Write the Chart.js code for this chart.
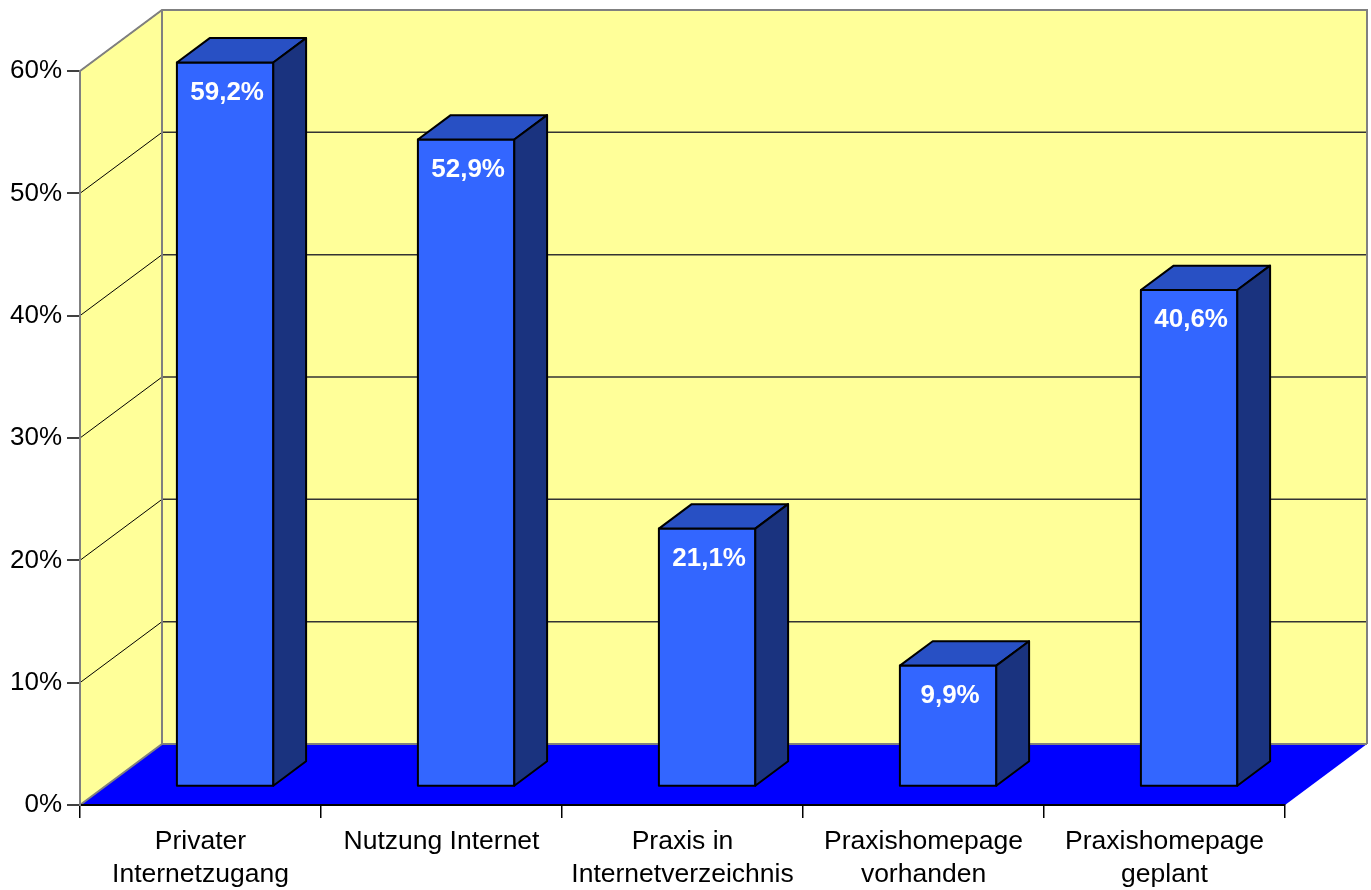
<!DOCTYPE html>
<html>
<head>
<meta charset="utf-8">
<script src="https://cdn.jsdelivr.net/npm/chart.js@4.4.1/dist/chart.umd.min.js"></script>
<style>
html,body{margin:0;padding:0;background:#fff;}
canvas{display:block;}
</style>
</head>
<body>
<canvas id="c" width="1371" height="890"></canvas>
<script>
const categories = [
  ["Privater", "Internetzugang"],
  ["Nutzung Internet"],
  ["Praxis in", "Internetverzeichnis"],
  ["Praxishomepage", "vorhanden"],
  ["Praxishomepage", "geplant"]
];
const values = [59.2, 52.9, 21.1, 9.9, 40.6];
const valueLabels = ["59,2%", "52,9%", "21,1%", "9,9%", "40,6%"];
const yTicks = [0, 10, 20, 30, 40, 50, 60];

const DX = 82, DY = -61;        // depth of the 3D box (back wall offset)
const Z0 = 0.3, Z1 = 0.7;       // bar depth range

const threeD = {
  id: 'threeD',
  beforeDraw(chart) {
    const ctx = chart.ctx;
    const xs = chart.scales.x, ys = chart.scales.y;
    const L = xs.left, R = xs.right;
    const y0 = ys.getPixelForValue(0), yT = ys.getPixelForValue(60);
    ctx.save();
    ctx.fillStyle = '#fff';
    ctx.fillRect(0, 0, chart.width, chart.height);
    // left wall
    ctx.fillStyle = '#FFFF99';
    ctx.beginPath();
    ctx.moveTo(L, y0); ctx.lineTo(L, yT); ctx.lineTo(L + DX, yT + DY); ctx.lineTo(L + DX, y0 + DY); ctx.closePath();
    ctx.fill();
    // back wall
    ctx.fillRect(L + DX, yT + DY, R - L, y0 - yT);
    // floor
    ctx.fillStyle = '#0000FF';
    ctx.beginPath();
    ctx.moveTo(L, y0); ctx.lineTo(R, y0); ctx.lineTo(R + DX, y0 + DY); ctx.lineTo(L + DX, y0 + DY); ctx.closePath();
    ctx.fill();
    // gridlines
    for (const v of yTicks) {
      if (v === 0) continue;
      const py = ys.getPixelForValue(v);
      ctx.strokeStyle = '#000';
      ctx.lineWidth = 1;
      ctx.beginPath();
      ctx.moveTo(L, py); ctx.lineTo(L + DX, py + DY);
      ctx.stroke();
      if (v !== 60) {
        ctx.strokeStyle = '#333';
        ctx.lineWidth = 1.5;
        ctx.beginPath();
        ctx.moveTo(L + DX, py + DY); ctx.lineTo(R + DX, py + DY);
        ctx.stroke();
      }
    }
    // grey edges
    ctx.strokeStyle = '#808080';
    ctx.lineWidth = 2;
    ctx.beginPath();
    ctx.moveTo(L, yT); ctx.lineTo(L + DX, yT + DY); ctx.lineTo(R + DX, yT + DY); ctx.lineTo(R + DX, y0 + DY);
    ctx.moveTo(L + DX, yT + DY); ctx.lineTo(L + DX, y0 + DY); ctx.lineTo(R + DX, y0 + DY);
    ctx.moveTo(L, y0); ctx.lineTo(L + DX, y0 + DY);
    ctx.stroke();
    ctx.restore();
  },
  afterDatasetsDraw(chart) {
    const ctx = chart.ctx;
    const meta = chart.getDatasetMeta(0);
    ctx.save();
    ctx.lineWidth = 2;
    ctx.lineJoin = 'round';
    ctx.strokeStyle = '#000';
    meta.data.forEach((el, i) => {
      const p = el.getProps(['x', 'y', 'base', 'width'], true);
      const fx = p.x - p.width / 2 + Z0 * DX, fw = p.width;
      const ft = p.y + Z0 * DY, fb = p.base + Z0 * DY;
      const ddx = (Z1 - Z0) * DX, ddy = (Z1 - Z0) * DY;
      // front
      ctx.fillStyle = '#3366FF';
      ctx.beginPath();
      ctx.rect(fx, ft, fw, fb - ft);
      ctx.fill(); ctx.stroke();
      // top
      ctx.fillStyle = '#2850C4';
      ctx.beginPath();
      ctx.moveTo(fx, ft); ctx.lineTo(fx + ddx, ft + ddy); ctx.lineTo(fx + fw + ddx, ft + ddy); ctx.lineTo(fx + fw, ft); ctx.closePath();
      ctx.fill(); ctx.stroke();
      // side
      ctx.fillStyle = '#1A337F';
      ctx.beginPath();
      ctx.moveTo(fx + fw, ft); ctx.lineTo(fx + fw + ddx, ft + ddy); ctx.lineTo(fx + fw + ddx, fb + ddy); ctx.lineTo(fx + fw, fb); ctx.closePath();
      ctx.fill(); ctx.stroke();
      // label
      ctx.fillStyle = '#fff';
      ctx.font = 'bold 26px "Liberation Sans", Arial, sans-serif';
      ctx.textAlign = 'center';
      ctx.textBaseline = 'middle';
      ctx.fillText(valueLabels[i], fx + fw / 2 + 2, ft + 30);
    });
    ctx.restore();
  }
};

new Chart(document.getElementById('c'), {
  type: 'bar',
  data: {
    labels: categories,
    datasets: [{
      data: values,
      backgroundColor: 'rgba(0,0,0,0)',
      borderWidth: 0,
      categoryPercentage: 1,
      barPercentage: 0.4
    }]
  },
  options: {
    responsive: false,
    animation: false,
    layout: { padding: { top: 71, right: 86, left: 0, bottom: 0 } },
    plugins: { legend: { display: false }, tooltip: { enabled: false } },
    scales: {
      x: {
        afterFit(s) { s.height = 85; },
        grid: { drawOnChartArea: false, drawTicks: true, tickLength: 13, color: '#000', lineWidth: 1.5 },
        border: { display: true, color: '#000', width: 2 },
        ticks: {
          color: '#000', padding: 8, maxRotation: 0, autoSkip: false,
          font: { family: '"Liberation Sans", Arial, sans-serif', size: 26.5, lineHeight: 1.22 }
        }
      },
      y: {
        min: 0, max: 60,
        afterFit(s) { s.width = 80; },
        grid: { drawOnChartArea: false, drawTicks: true, tickLength: 13, color: '#404040', lineWidth: 2 },
        border: { display: true, color: '#808080', width: 2 },
        ticks: {
          stepSize: 10, color: '#000', padding: 5,
          callback: v => v + '%',
          font: { family: '"Liberation Sans", Arial, sans-serif', size: 26 }
        }
      }
    }
  },
  plugins: [threeD]
});
</script>
</body>
</html>
